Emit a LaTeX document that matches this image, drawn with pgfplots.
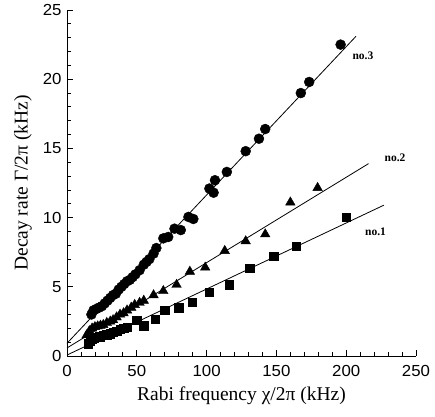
\documentclass[border=0pt]{standalone}
\usepackage{fontspec}
\setmainfont{Liberation Serif}
\newfontfamily\ticksans[FakeStretch=1.05]{Liberation Sans}
\usepackage{pgfplots}
\pgfplotsset{compat=1.18}

\begin{document}
\begin{tikzpicture}
\path[use as bounding box] (-67pt,-60pt) rectangle (368pt,356pt);
\begin{axis}[
  at={(0,0)}, anchor=south west,
  scale only axis, width=349pt, height=346pt,
  xmin=0, xmax=250, ymin=0, ymax=25,
  axis x line*=bottom, axis y line*=left,
  xtick={0,50,...,250}, ytick={0,5,...,25},
  minor x tick num=4, minor y tick num=4,
  tick align=inside,
  major tick length=6pt, minor tick length=4pt,
  every tick/.style={black, line width=0.8pt},
  axis line style={line width=0.9pt},
  tick label style={font=\fontsize{16}{16}\ticksans},
  xticklabel style={yshift=-6pt},
  yticklabel style={xshift=-2pt},
  /pgf/number format/assume math mode=true,
  xlabel={Rabi frequency χ/2π (kHz)},
  ylabel={Decay rate Γ/2π (kHz)},
  label style={font=\fontsize{19.5}{19.5}\selectfont},
  xlabel style={yshift=-3pt},
  ylabel style={yshift=4pt},
  clip=false,
]
% fitted lines
\addplot[black, line width=0.8pt] coordinates {(0,0.07) (227,10.9)};
\addplot[black, line width=0.8pt] coordinates {(0,0.58) (216,13.9)};
\addplot[black, line width=0.8pt] coordinates {(0,0.92) (207,23.1)};
% no.1 squares
\addplot[only marks, mark=square*, mark size=4.2pt, black] coordinates {
(15,0.9) (16.5,1.1) (18,1.2) (19.5,1.3) (21,1.35) (23.5,1.4) (26,1.5) (28.5,1.55)
(31,1.6) (33,1.7) (35.5,1.8) (38,1.95) (40.5,2.0) (43,2.1) (50,2.6) (55,2.2)
(63,2.65) (70,3.3) (80,3.5) (89.5,3.9) (102,4.6) (116,5.15) (131,6.35)
(148,7.2) (164,7.95) (200,10.05)};
% no.2 triangles
\addplot[only marks, mark=triangle*, mark size=5.5pt, black] coordinates {
(14,1.5) (16,1.8) (18,2.0) (20,2.1) (22,2.15) (24,2.2) (26,2.25) (28.5,2.4)
(31,2.5) (33,2.6) (35.5,2.8) (38,3.0) (40.5,3.1) (43,3.3) (46,3.5) (48.5,3.7)
(52,3.85) (55,4.0) (62,4.4) (69,4.7) (78.5,5.15) (88,6.1) (99,6.4) (113,7.6)
(128,8.3) (142,8.8) (160,11.1) (179.5,12.15)};
% no.3 circles
\addplot[only marks, mark=*, mark size=5pt, black] coordinates {
(17.5,3.0) (19,3.3) (21,3.4) (23,3.5) (25,3.6) (27,3.8) (29,4.0) (31,4.2)
(33,4.4) (35,4.5) (37,4.8) (39,5.0) (41,5.2) (43,5.4) (45,5.5) (47,5.7)
(49,5.9) (52,6.2) (55,6.6) (57,6.8) (59,7.0) (62,7.4) (64,7.8) (69,8.5)
(72.5,8.6) (77,9.2) (81.5,9.1) (87,10.05) (90.5,9.9) (102,12.1) (105,11.8)
(106,12.7) (114.5,13.3) (128,14.8) (137.5,15.7) (142,16.4) (167.5,19.0)
(173.5,19.8) (196,22.5)};
\node[font=\bfseries\fontsize{11.5}{11.5}\selectfont] at (axis cs:212,21.7) {no.3};
\node[font=\bfseries\fontsize{11.5}{11.5}\selectfont] at (axis cs:235,14.3) {no.2};
\node[font=\bfseries\fontsize{11.5}{11.5}\selectfont] at (axis cs:221,9.0) {no.1};
\end{axis}
\end{tikzpicture}
\end{document}
